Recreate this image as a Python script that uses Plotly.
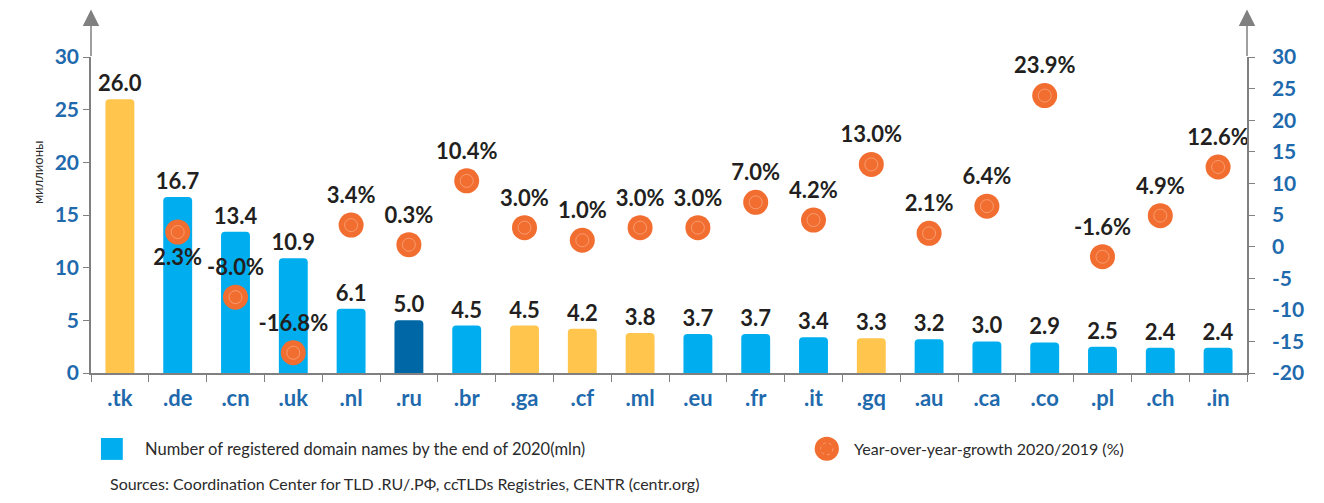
import plotly.graph_objects as go

domeni = [".tk", ".de", ".cn", ".uk", ".nl", ".ru", ".br", ".ga", ".cf", ".ml",
          ".eu", ".fr", ".it", ".gq", ".au", ".ca", ".co", ".pl", ".ch", ".in"]
registrati_mln = [26.0, 16.7, 13.4, 10.9, 6.1, 5.0, 4.5, 4.5, 4.2, 3.8,
                  3.7, 3.7, 3.4, 3.3, 3.2, 3.0, 2.9, 2.5, 2.4, 2.4]
crescita_pct = [None, 2.3, -8.0, -16.8, 3.4, 0.3, 10.4, 3.0, 1.0, 3.0,
                3.0, 7.0, 4.2, 13.0, 2.1, 6.4, 23.9, -1.6, 4.9, 12.6]
gratuiti = [".tk", ".ga", ".cf", ".ml", ".gq"]
tick_sx = [0, 5, 10, 15, 20, 25, 30]
tick_dx = [-20, -15, -10, -5, 0, 5, 10, 15, 20, 25, 30]
tick_dx_testo = [str(v) for v in tick_dx]  # trattino normale, non il segno meno tipografico

AZZURRO = "#00AEEF"
GIALLO = "#FFC54D"
BLU_RU = "#0067A6"
ARANCIO = "#F26D30"
BLU_TESTO = "#1F6AAD"
GRIGIO = "#808080"
TESTO = "#2B2B2B"
FONT = "Lato"

colori = [GIALLO if d in gratuiti else (BLU_RU if d == ".ru" else AZZURRO) for d in domeni]
pos_testo = ["bottom center" if d == ".de" else "top center" for d in domeni]
testi_crescita = [f"{v:.1f}%" if v is not None else "" for v in crescita_pct]

fig = go.Figure()
fig.add_trace(go.Bar(x=domeni, y=registrati_mln, marker=dict(color=colori, cornerradius=4, line_width=0),
                     width=0.5, text=[f"{v:.1f}" for v in registrati_mln], textposition="outside",
                     constraintext="none", textangle=0,
                     textfont=dict(family=FONT, size=22, color="#231F20", weight="bold"),
                     cliponaxis=False, showlegend=False))
fig.add_trace(go.Scatter(x=domeni, y=crescita_pct, yaxis="y2", mode="markers+text",
                         marker=dict(size=25, color=ARANCIO), text=testi_crescita, textposition=pos_testo,
                         textfont=dict(family=FONT, size=22, color="#231F20", weight="bold"),
                         cliponaxis=False, showlegend=False))
fig.add_trace(go.Scatter(x=domeni, y=crescita_pct, yaxis="y2", mode="markers",
                         marker=dict(size=13, symbol="circle-open", color="#F8A77E", line=dict(width=0.8)),
                         hoverinfo="skip", cliponaxis=False, showlegend=False))

asse_y = dict(showgrid=False, zeroline=False, showline=True, linecolor=GRIGIO, linewidth=1.5,
              ticks="outside", ticklen=6, tickcolor=GRIGIO, tickwidth=1.2,
              tickfont=dict(family=FONT, size=21, color=BLU_TESTO, weight="bold"))
# la pagina ha 8px di margine del body: figura ridotta e spostata di conseguenza
fig.update_layout(
    width=1308, height=487, autosize=False,
    margin=dict(l=83, r=63, t=49, b=122),
    plot_bgcolor="white", paper_bgcolor="white",
    xaxis=dict(range=[-0.5, len(domeni) - 0.5], showgrid=False, showline=True, linecolor=GRIGIO,
               linewidth=1.5, ticks="outside", tickson="boundaries", ticklen=7, tickcolor=GRIGIO,
               tickwidth=1.2, ticklabelstandoff=5,
               tickfont=dict(family=FONT, size=22, color=BLU_TESTO, weight="bold")),
    yaxis=dict(range=[0, 30], tickvals=tick_sx, ticklabelstandoff=0, **asse_y),
    yaxis2=dict(range=[-20, 30], tickvals=tick_dx, ticktext=tick_dx_testo, overlaying="y", side="right",
                ticklabelstandoff=13, **asse_y),
)

# frecce in cima agli assi
for xp in (0, 1):
    fig.add_annotation(x=xp, y=1.15, xref="paper", yref="paper", ax=0, ay=48, text="",
                       showarrow=True, arrowhead=2, arrowsize=2.2, arrowwidth=1.5, arrowcolor=GRIGIO)

fig.add_annotation(x=-0.055, y=0.74, xref="paper", yref="paper", text="миллионы", textangle=-90,
                   showarrow=False, font=dict(family=FONT, size=13, color=TESTO))

# legenda manuale
fig.add_shape(type="rect", xref="paper", yref="paper", x0=0.0086, x1=0.0275, y0=-0.275, y1=-0.2057,
              fillcolor=AZZURRO, line_width=0)
fig.add_annotation(x=0.0448, y=-0.2405, xref="paper", yref="paper", xanchor="left", yanchor="middle",
                   showarrow=False, text="Number of registered domain names by the end of 2020(mln)",
                   font=dict(family=FONT, size=16.5, color=TESTO))
fig.add_shape(type="circle", xref="paper", yref="paper", x0=0.626, x1=0.647, y0=-0.278, y1=-0.202,
              fillcolor=ARANCIO, line_width=0)
fig.add_shape(type="circle", xref="paper", yref="paper", x0=0.6312, x1=0.6418, y0=-0.259, y1=-0.221,
              line=dict(color="#F8A77E", width=0.8, dash="dot"))
fig.add_annotation(x=0.658, y=-0.2405, xref="paper", yref="paper", xanchor="left", yanchor="middle",
                   showarrow=False, text="Year-over-year-growth 2020/2019 (%)",
                   font=dict(family=FONT, size=16, color=TESTO))
fig.add_annotation(x=0.0146, y=-0.349, xref="paper", yref="paper", xanchor="left", yanchor="middle",
                   showarrow=False,
                   text="Sources: Coordination Center for TLD .RU/.РФ, ccTLDs Registries, CENTR (centr.org)",
                   font=dict(family=FONT, size=16, color=TESTO))

fig.write_html("out.html")
